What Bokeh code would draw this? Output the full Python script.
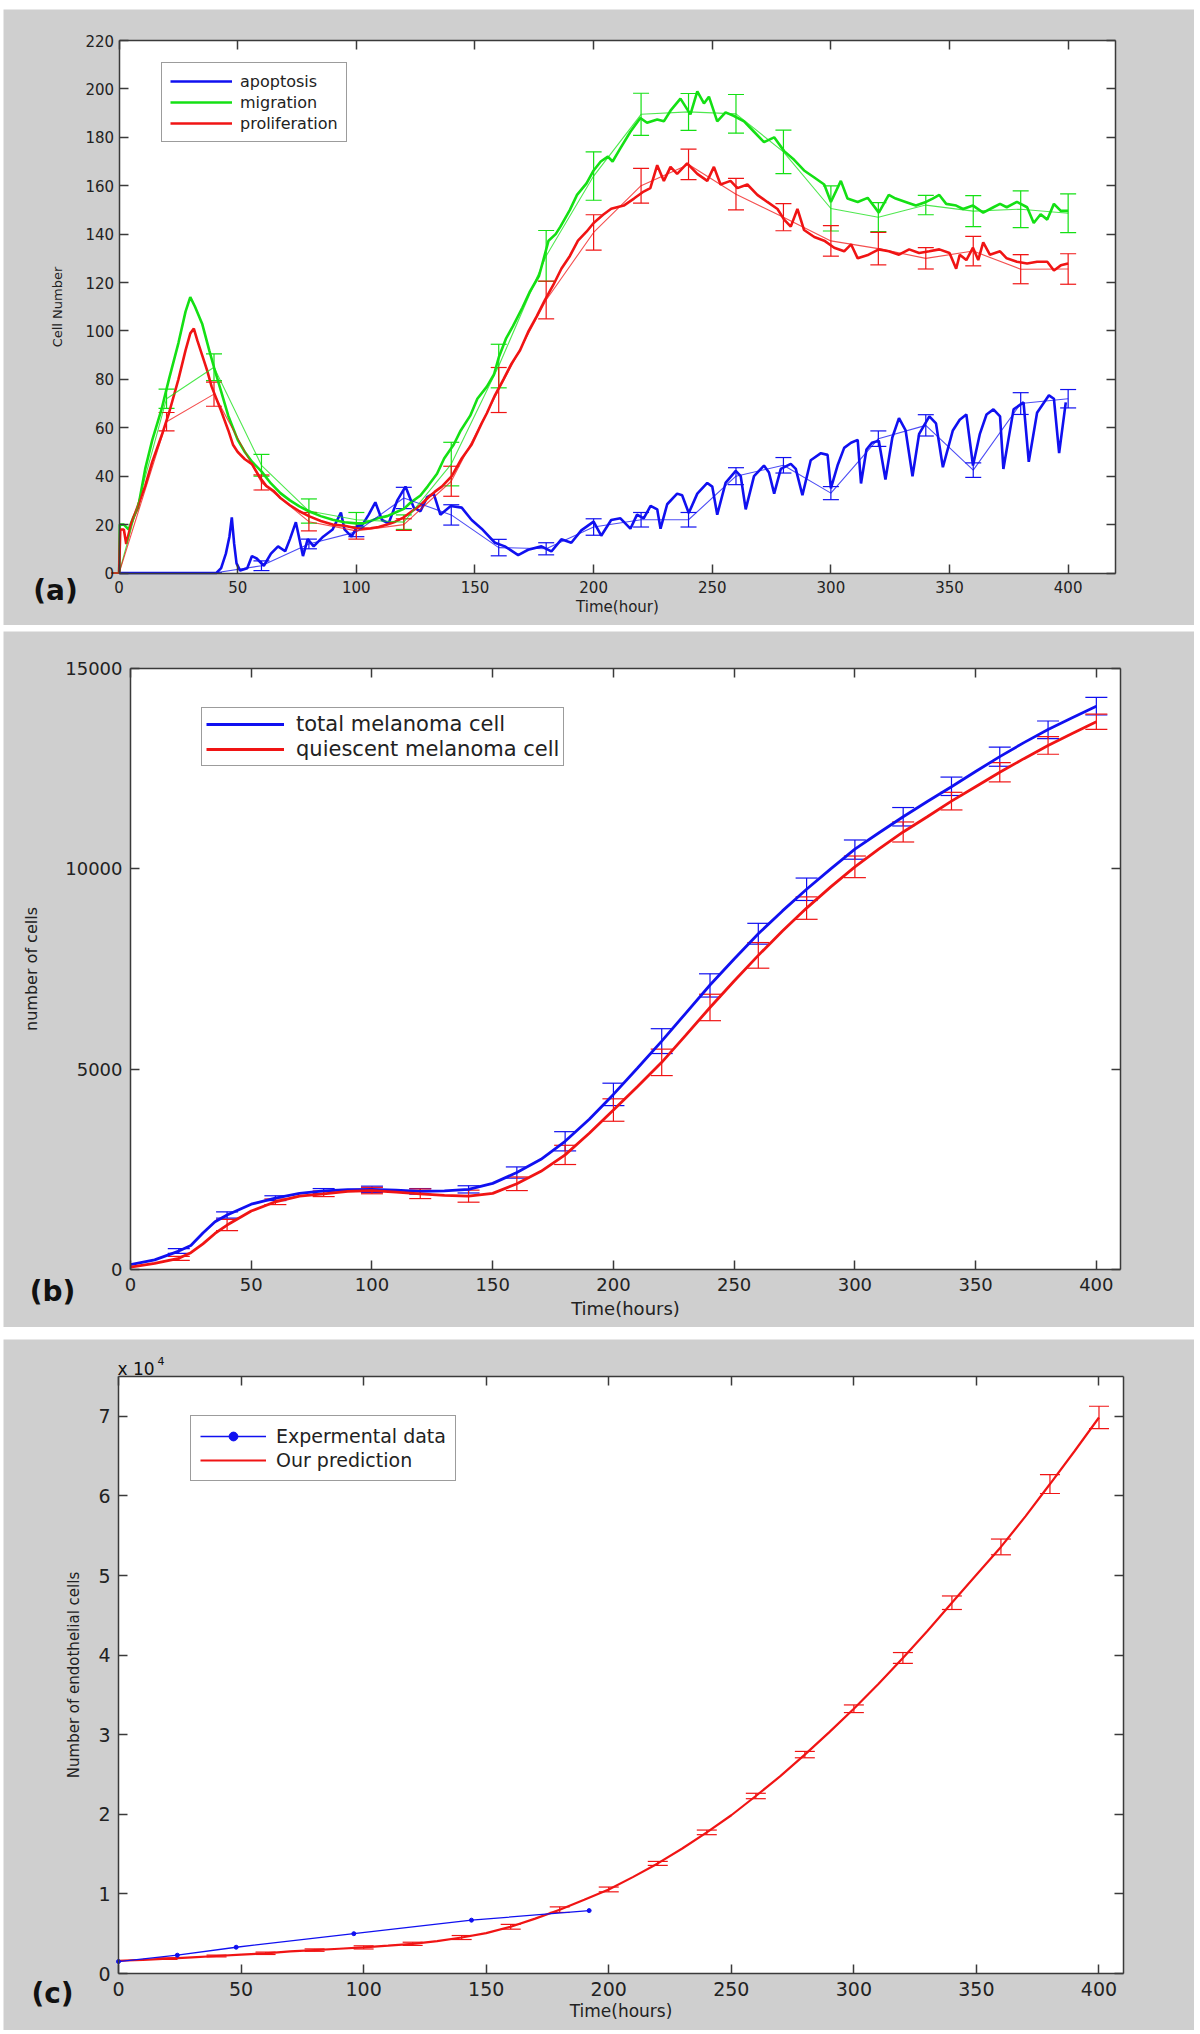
from bokeh.plotting import figure
from bokeh.models import (Range1d, LinearAxis, FixedTicker, Whisker, TeeHead, BoxAnnotation,
                          ColumnDataSource, Legend, LegendItem, Label, Spacer)
from bokeh.layouts import column, row
from bokeh.embed import file_html
from bokeh.resources import INLINE

# ------------------------------------------------------------------ data (a)
a_xticks = [0, 50, 100, 150, 200, 250, 300, 350, 400]
a_yticks = [0, 20, 40, 60, 80, 100, 120, 140, 160, 180, 200, 220]

apoptosis_raw = [(0, 0), (41, 0), (43, 2), (45, 8), (46.5, 15), (47.5, 23), (48.5, 12), (49.5, 4), (51, 1),
    (54, 2), (56, 7), (58, 6), (61, 3), (64, 8), (67, 11), (70, 9), (72, 14), (74.5, 21), (77.5, 7),
    (79.5, 14), (82, 11), (86, 15), (90, 18), (93.5, 25), (95, 18), (98, 15), (100.5, 19.5),
    (102.4, 19.7), (105.2, 24.1), (108, 29.2), (110.8, 21.9), (113.6, 20.5), (117.2, 29.9), (120.7, 35.7),
    (124.2, 27), (127, 25.5), (129.8, 31.3), (132.6, 32.8), (135.4, 24.1), (139.8, 27.7), (144.4, 27),
    (148.6, 21.9), (152.8, 18.3), (158.4, 12.5), (162.6, 11), (168.2, 7.4), (172.4, 9.6), (178, 11),
    (182.2, 8.9), (186.4, 13.9), (190.6, 12.5), (194.8, 17.6), (200, 21.2), (203.2, 15.4), (207.4, 21.9),
    (211.3, 22.6), (215.5, 18.3), (218.3, 24.1), (221.1, 22.6), (224, 27.7), (226.8, 26.3), (228.2, 18.3),
    (231, 28.4), (235.2, 32.8), (237.3, 32.1), (240.1, 24.8), (243.7, 32.8), (247.9, 37.2), (250, 35.7),
    (252.1, 24.1), (255.6, 37.2), (259.9, 42.2), (262, 40), (264.1, 26.3), (267.6, 40), (271.8, 44.4),
    (273.9, 41.5), (276.1, 32.8), (278.9, 43), (283.1, 45.1), (285.2, 43), (288, 32.1), (291.5, 46.6),
    (295.8, 49.5), (298.6, 48.8), (300, 35), (302.8, 44.4), (305.6, 51.7), (308.5, 53.8), (311.3, 55),
    (312.7, 37), (315, 51), (317.3, 53.8), (320.2, 54.6), (323, 38.6), (325.9, 56), (328.7, 64),
    (331.5, 58.9), (334.4, 40), (337.2, 57.5), (341.5, 64.7), (344.3, 61.8), (347.2, 43.7), (351.4, 58.9),
    (354.3, 63.3), (357.1, 65.5), (359.9, 44.4), (362.8, 57.5), (365.6, 65.5), (368.5, 67.6), (371.3, 64.7),
    (372.7, 43), (377, 67.6), (381.2, 70.5), (383.4, 45.9), (386.9, 66.2), (391.9, 73.4), (394, 72),
    (396.2, 49.5), (399, 70.5)]

migration_raw = [(0, 0), (0.3, 20), (2, 20), (4, 18), (6, 23), (8, 27), (11, 43), (14, 55), (18, 68),
    (21, 80), (25, 95), (28, 108), (30, 114), (32, 110), (35, 103), (38, 92), (40, 85), (43, 75), (46, 65),
    (50, 55), (53, 50), (56, 46), (60, 42), (64, 37), (68, 33), (72, 30), (76, 27.5), (80, 25.5), (85, 23.5),
    (90, 22), (95, 21), (100, 20.5), (103, 20.5), (106, 21.5), (109, 22.6), (113, 23.5), (116, 24.8),
    (120, 26.5), (123, 29.2), (127, 32), (130, 35.7), (134, 41), (137, 47.3), (141, 53), (144, 58.9),
    (148, 65), (151, 72), (155, 77), (158, 82), (160, 89), (163, 96.7), (166, 102), (170, 109.7), (173, 116),
    (177, 122.8), (179, 130), (181, 137.3), (184, 140), (186, 143.1), (190, 150), (193, 156.2), (197, 161),
    (200, 166.3), (203, 170), (206, 172), (208, 170), (211, 175), (215.5, 182.3), (219.7, 188), (222.5, 186),
    (226.8, 187.4), (229.6, 186.6), (232.4, 191), (236.6, 196), (240.8, 189.5), (243.7, 199), (246.5, 194),
    (248.6, 196.8), (252.1, 186.6), (255.6, 190.3), (259.2, 188.8), (263.4, 186.6), (267.6, 182.3),
    (271.8, 178), (276.1, 180), (280.3, 174.3), (284.5, 170.7), (288.7, 166.3), (293, 163.4), (297.2, 160.5),
    (300, 153.3), (304.2, 162), (307, 154.7), (311.3, 153.3), (315.5, 155), (320.2, 148.9), (324.4, 156.2),
    (327.3, 154.7), (331.5, 153.3), (335.8, 151.8), (340.1, 153.3), (342.9, 154.7), (345.7, 156.2),
    (348.6, 152.5), (352.8, 151.8), (355.7, 150.4), (359.9, 151.8), (364.2, 148.9), (368.5, 151.1),
    (371.3, 152.5), (374.1, 151.1), (378.4, 153.3), (382.7, 151.1), (385.5, 144.6), (388.4, 148.2),
    (391.2, 146), (394, 152.5), (396.9, 149.6), (400, 149.6)]

proliferation_raw = [(0, 0), (0.5, 18), (2, 18), (3, 12), (5, 20), (8, 28), (11, 36), (14, 46), (18, 57),
    (21, 66), (25, 80), (28, 92), (30, 99), (31.5, 101), (33, 96), (35, 90), (37, 84), (39, 77), (41, 72),
    (43, 67), (46, 59), (48, 53), (50, 50), (53, 47), (56, 45), (59, 40), (62, 36), (65, 34), (68, 31),
    (72, 28), (76, 25.5), (80, 23.5), (85, 21.5), (90, 20), (95, 19.5), (100, 18.5), (102.4, 18.3), (106, 18.5),
    (109.4, 19), (113, 20), (116.4, 21.2), (120, 23), (123.4, 25.5), (127, 28), (130.4, 31.3), (133, 33.5),
    (136, 35.7), (140.2, 40), (144.4, 47.3), (148.6, 53.1), (152.8, 61.8), (155, 66), (158.4, 73.4), (162, 80),
    (165.4, 86.5), (169, 92), (172.4, 99.6), (176, 106), (179.4, 112.6), (183, 119), (186.4, 125.7), (190, 131),
    (193.4, 137.3), (197, 141), (200, 144.6), (204, 148), (207.4, 150.5), (212.7, 151.8), (217, 154.7),
    (221.1, 157.6), (223.9, 159), (226.8, 168.5), (229.6, 162), (232.4, 167.8), (235.2, 164.9), (239.4, 169.2),
    (243.7, 164.9), (247.9, 162), (250.7, 167.8), (253.5, 160.5), (257.7, 162), (260.6, 159), (264.8, 160.5),
    (269, 156.2), (273.2, 153.3), (277.5, 150.4), (280.3, 146), (283.1, 143.1), (285.9, 150.4), (288.7, 141.7),
    (293, 138.8), (297.2, 137.3), (301.4, 134.4), (305.6, 132.9), (308.5, 135.8), (311.3, 130), (315.9, 131.5),
    (320.2, 133.7), (324.4, 132.9), (328.7, 131.5), (333, 133.7), (337.2, 132.2), (341.5, 132.9), (345.7, 133.7),
    (350, 132.2), (352.8, 125.7), (354.3, 131.5), (357.1, 129.3), (359.9, 134.4), (362.1, 129.3), (364.2, 136.6),
    (367, 131.5), (371.3, 132.9), (374.1, 130), (378.4, 128.6), (382.7, 127.9), (386.9, 128.6), (391.2, 128.6),
    (394, 125), (396.9, 127.1), (400, 127.9)]

mean_hours = [0, 20, 40, 60, 80, 100, 120, 140, 160, 180, 200, 220, 240, 260, 280, 300, 320, 340, 360, 380, 400]
apoptosis_mean = [0, 0, 0, 3, 12, 17, 31, 24, 10.5, 10, 19, 22, 22, 40, 44.5, 33, 55.5, 61, 42.5, 70, 72]
apoptosis_err = [0, 0, 0, 2, 2, 2, 4.4, 4.2, 3.4, 2.5, 3.4, 3, 3, 3.5, 3.2, 2.7, 3.2, 4.4, 3, 4.5, 3.8]
migration_mean = [0, 72, 85, 44.5, 25.6, 22, 21, 45, 85.5, 131, 164, 189.5, 190.5, 189.7, 174, 150.6, 147, 152, 149.5, 150.3, 148.6]
migration_err = [0, 4, 5.5, 4.5, 5, 3, 3, 9, 9, 10.5, 10, 8.7, 7.6, 8, 9, 9.3, 6, 4, 6.4, 7.6, 8]
proliferation_mean = [0, 62.5, 73.9, 37.4, 21.2, 17.4, 20, 37.9, 75.6, 112.8, 140.7, 160, 168.8, 156.5, 147, 137.2, 134, 130, 133, 125.5, 125.6]
proliferation_err = [0, 3.8, 5, 3.1, 3.8, 3.4, 2.4, 6.2, 9.3, 7.8, 7.3, 7.2, 6.3, 6.5, 5.6, 6.3, 6.7, 4.4, 6.1, 6, 6.3]

# ------------------------------------------------------------------ data (b)
b_xticks = [0, 50, 100, 150, 200, 250, 300, 350, 400]
b_yticks = [0, 5000, 10000, 15000]
b_hours = [0, 10, 20, 25, 30, 35, 40, 50, 60, 70, 80, 90, 100, 110, 120, 130, 140, 150, 160, 170, 180, 190, 200,
           210, 220, 230, 240, 250, 260, 270, 280, 290, 300, 310, 320, 330, 340, 350, 360, 370, 380, 390, 400]
total_cells = [120, 240, 460, 600, 910, 1190, 1360, 1630, 1780, 1900, 1960, 1990, 2000, 1980, 1950, 1960, 2000,
               2150, 2420, 2750, 3200, 3750, 4370, 5030, 5700, 6400, 7100, 7750, 8380, 8950, 9490, 10000,
               10490, 10900, 11300, 11680, 12050, 12430, 12800, 13150, 13480, 13770, 14060]
quiescent_cells = [60, 150, 280, 420, 640, 900, 1110, 1460, 1690, 1830, 1890, 1950, 1970, 1930, 1890, 1850, 1830,
                   1900, 2140, 2450, 2860, 3400, 3980, 4570, 5170, 5850, 6540, 7200, 7840, 8450, 9020, 9550,
                   10050, 10500, 10920, 11300, 11690, 12050, 12410, 12750, 13080, 13380, 13670]
b_err_hours = [20, 40, 60, 80, 100, 120, 140, 160, 180, 200, 220, 240, 260, 280, 300, 320, 340, 360, 380, 400]
total_mean = [460, 1360, 1780, 1960, 2000, 1950, 2000, 2420, 3200, 4370, 5700, 7090, 8380, 9490, 10480, 11300, 12060, 12800, 13470, 14060]
total_err = [60, 80, 60, 60, 80, 70, 90, 140, 240, 280, 310, 290, 260, 280, 240, 230, 230, 240, 220, 220]
quiescent_mean = [280, 1110, 1690, 1890, 1970, 1890, 1830, 2140, 2860, 3980, 5170, 6540, 7840, 9020, 10050, 10920, 11690, 12410, 13080, 13670]
quiescent_err = [50, 140, 70, 70, 80, 120, 150, 170, 240, 280, 330, 330, 320, 280, 270, 250, 220, 240, 220, 190]

# ------------------------------------------------------------------ data (c)
c_xticks = [0, 50, 100, 150, 200, 250, 300, 350, 400]
c_yticks = [0, 10000, 20000, 30000, 40000, 50000, 60000, 70000]
c_ytick_labels = ["0", "1", "2", "3", "4", "5", "6", "7"]
exp_hours = [0, 24, 48, 96, 144, 192]
exp_cells = [1500, 2300, 3300, 5000, 6700, 7900]
pred_hours = [0, 10, 20, 30, 40, 50, 60, 70, 80, 90, 100, 110, 120, 130, 140, 150, 160, 170, 180, 190, 200,
              210, 220, 230, 240, 250, 260, 270, 280, 290, 300, 310, 320, 330, 340, 350, 360, 370, 380, 390, 400]
pred_cells = [1600, 1700, 1860, 2030, 2200, 2370, 2540, 2770, 2940, 3110, 3280, 3500, 3730, 4070, 4520, 5080,
              5870, 6890, 8020, 9260, 10560, 12140, 13830, 15700, 17730, 19880, 22300, 24790, 27500, 30320,
              33260, 36360, 39640, 43030, 46580, 50090, 53590, 57430, 61490, 65610, 69850]
pred_err_hours = [20, 40, 60, 80, 100, 120, 140, 160, 180, 200, 220, 240, 260, 280, 300, 320, 340, 360, 380, 400]
pred_err_mean = [1860, 2200, 2540, 2940, 3280, 3730, 4520, 5870, 8020, 10560, 13830, 17730, 22300, 27500, 33260, 39640, 46580, 53590, 61490, 69850]
pred_err = [100, 100, 150, 150, 200, 200, 250, 300, 350, 300, 250, 290, 340, 400, 480, 680, 850, 990, 1190, 1410]

# ------------------------------------------------------------------ styling helpers
GRAY = "#cfcfcf"
FRAME = "#3a3a3a"
TXT = "#222222"
FONT = "DejaVu Sans"
BLUE = "#1010f0"
GREEN = "#14e014"
RED = "#f01414"
PANEL_W = 1191


def make_panel(w, h, box, xmax, ymax):
    """box = (left, right, top, bottom) of the white plot box, in pixels inside the panel."""
    bl, br, bt, bb = box
    sx = (br - bl) / xmax
    sy = (bb - bt) / ymax
    p = figure(width=w, height=h,
               x_range=Range1d(-bl / sx, xmax + (w - br) / sx),
               y_range=Range1d(-(h - bb) / sy, ymax + bt / sy),
               output_backend="svg", toolbar_location=None,
               x_axis_location=None, y_axis_location=None,
               min_border=0, min_border_left=0, min_border_right=0,
               min_border_top=0, min_border_bottom=0)
    p.background_fill_color = GRAY
    p.border_fill_color = GRAY
    p.outline_line_color = None
    p.xgrid.visible = False
    p.ygrid.visible = False
    p.add_layout(BoxAnnotation(left=0, right=xmax, bottom=0, top=ymax, fill_color="white",
                               fill_alpha=1.0, line_color=None, level="underlay"))
    p.add_layout(LinearAxis(fixed_location=0, bounds=(0, xmax)), "below")
    p.add_layout(LinearAxis(fixed_location=0, bounds=(0, ymax)), "left")
    p.add_layout(LinearAxis(fixed_location=ymax, bounds=(0, xmax)), "above")
    p.add_layout(LinearAxis(fixed_location=xmax, bounds=(0, ymax)), "right")

    def to_data(px, py):
        return (p.x_range.start + px * (p.x_range.end - p.x_range.start) / w,
                p.y_range.end - py * (p.y_range.end - p.y_range.start) / h)
    return p, to_data


def style_axes(p, xticks, yticks, fs, xlabel, ylabel, lab_fs_x, lab_fs_y,
               x_std, y_std, x_lstd, y_lstd, yover=None):
    for ax in p.xaxis:
        ax.ticker = FixedTicker(ticks=xticks)
    for ax in p.yaxis:
        ax.ticker = FixedTicker(ticks=yticks)
        if yover:
            ax.major_label_overrides = yover
    for ax in p.axis:
        ax.major_tick_in = 9
        ax.major_tick_out = 0
        ax.minor_tick_line_color = None
        ax.axis_line_color = FRAME
        ax.axis_line_width = 1.5
        ax.major_tick_line_color = FRAME
        ax.major_tick_line_width = 1.5
        ax.major_label_text_font = FONT
        ax.major_label_text_font_size = f"{fs}px"
        ax.major_label_text_color = TXT
        ax.axis_label_text_font = FONT
        ax.axis_label_text_font_style = "normal"
        ax.axis_label_text_color = TXT
    for ax in (p.above[0], p.right[0]):
        ax.major_label_text_color = None
    bx, ly = p.below[0], p.left[0]
    bx.axis_label = xlabel
    ly.axis_label = ylabel
    bx.axis_label_text_font_size = f"{lab_fs_x}px"
    ly.axis_label_text_font_size = f"{lab_fs_y}px"
    bx.major_label_standoff = x_std
    ly.major_label_standoff = y_std
    bx.axis_label_standoff = x_lstd
    ly.axis_label_standoff = y_lstd


def errorbars(p, xs, means, errs, color, cap, lw=1.2):
    src = ColumnDataSource(dict(base=xs, upper=[m + e for m, e in zip(means, errs)],
                                lower=[m - e for m, e in zip(means, errs)]))
    p.add_layout(Whisker(base="base", upper="upper", lower="lower", source=src,
                         line_color=color, line_width=lw,
                         upper_head=TeeHead(size=cap, line_color=color, line_width=lw),
                         lower_head=TeeHead(size=cap, line_color=color, line_width=lw)))


def style_legend(lg, fs, glyph_w, glyph_h, pad, spacing, standoff):
    lg.label_text_font = FONT
    lg.label_text_font_size = f"{fs}px"
    lg.label_text_color = TXT
    lg.glyph_width = glyph_w
    lg.glyph_height = glyph_h
    lg.label_height = glyph_h
    lg.padding = pad
    lg.spacing = spacing
    lg.margin = 0
    lg.label_standoff = standoff
    lg.border_line_color = FRAME
    lg.border_line_width = 1.5
    lg.background_fill_color = "white"
    lg.background_fill_alpha = 1.0


def add_text(p, to_data, px, py, text, size, bold=False, align="center", baseline="middle"):
    x, y = to_data(px, py)
    p.add_layout(Label(x=x, y=y, text=text, text_font=FONT,
                       text_font_style="bold" if bold else "normal",
                       text_font_size=f"{size}px", text_color="#111111",
                       text_align=align, text_baseline=baseline))


# ------------------------------------------------------------------ panel (a)
pa, da = make_panel(PANEL_W, 616, (115.6, 1112.1, 31, 563.5), 420, 220)
style_axes(pa, a_xticks, a_yticks, 15, "Time(hour)", "Cell Number", 15, 13,
           x_std=8, y_std=5, x_lstd=1, y_lstd=18)

series_a = [("apoptosis", apoptosis_raw, apoptosis_mean, apoptosis_err, BLUE),
            ("migration", migration_raw, migration_mean, migration_err, GREEN),
            ("proliferation", proliferation_raw, proliferation_mean, proliferation_err, RED)]
items_a = []
for name, raw, mean, err, col in series_a:
    tx, vy = zip(*raw)
    r = pa.line(list(tx), list(vy), line_color=col, line_width=2.6)
    items_a.append(LegendItem(label=name, renderers=[r]))
for name, raw, mean, err, col in series_a:
    pa.line(mean_hours, mean, line_color=col, line_width=1.1, line_alpha=0.75)
    errorbars(pa, mean_hours, mean, err, col, 16)

lega = Legend(items=items_a, location=(158, 483))
style_legend(lega, 16, 62, 20, 8, 1, 8)
pa.add_layout(lega)
add_text(pa, da, 52, 581, "(a)", 28, bold=True)

# ------------------------------------------------------------------ panel (b)
pb, db = make_panel(PANEL_W, 696, (127, 1117, 37, 638), 410, 15000)
style_axes(pb, b_xticks, b_yticks, 18, "Time(hours)", "number of cells", 18, 16,
           x_std=8, y_std=8, x_lstd=4, y_lstd=21)
rb1 = pb.line(b_hours, total_cells, line_color=BLUE, line_width=2.8)
rb2 = pb.line(b_hours, quiescent_cells, line_color=RED, line_width=2.8)
errorbars(pb, b_err_hours, total_mean, total_err, BLUE, 22)
errorbars(pb, b_err_hours, quiescent_mean, quiescent_err, RED, 22)
legb = Legend(items=[LegendItem(label="total melanoma cell", renderers=[rb1]),
                     LegendItem(label="quiescent melanoma cell", renderers=[rb2])],
              location=(198, 561))
style_legend(legb, 21, 78, 22, 4, 1, 12)
pb.add_layout(legb)
add_text(pb, db, 49, 660, "(b)", 28, bold=True)

# ------------------------------------------------------------------ panel (c)
pc, dc = make_panel(PANEL_W, 691, (115, 1120, 37, 634), 410, 75000)
style_axes(pc, c_xticks, c_yticks, 19, "Time(hours)", "Number of endothelial cells", 17, 15,
           x_std=8, y_std=8, x_lstd=2, y_lstd=12,
           yover={t: s for t, s in zip(c_yticks, c_ytick_labels)})
rc2 = pc.line(pred_hours, pred_cells, line_color=RED, line_width=2.2)
errorbars(pc, pred_err_hours, pred_err_mean, pred_err, RED, 20)
rc1 = pc.line(exp_hours, exp_cells, line_color=BLUE, line_width=1.3)
rc1m = pc.scatter(exp_hours, exp_cells, marker="circle", size=4, fill_color=BLUE, line_color=BLUE)
legc = Legend(items=[LegendItem(label="Expermental data", renderers=[rc1, rc1m]),
                     LegendItem(label="Our prediction", renderers=[rc2])],
              location=(187, 549))
style_legend(legc, 19, 66, 22, 9, 2, 10)
pc.add_layout(legc)
add_text(pc, dc, 49, 654, "(c)", 28, bold=True)
add_text(pc, dc, 114, 29, "x 10", 17, align="left", baseline="alphabetic")
add_text(pc, dc, 154, 21, "4", 11, align="left", baseline="alphabetic")

layout = row(Spacer(width=3),
             column(Spacer(height=9), pa, Spacer(height=6), pb, Spacer(height=12), pc))
open("out.html", "w").write(file_html(layout, INLINE))
